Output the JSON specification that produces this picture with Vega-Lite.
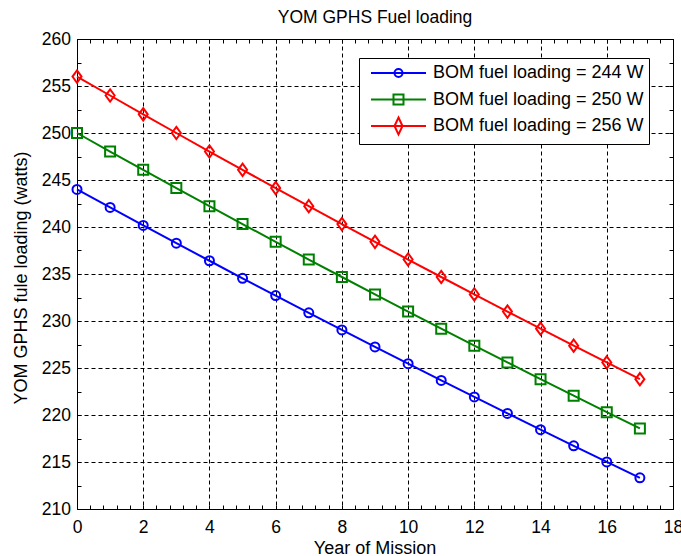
{
  "$schema": "https://vega.github.io/schema/vega-lite/v6.json",
  "autosize": "none",
  "padding": {"left": 77, "top": 39, "right": 8, "bottom": 47},
  "width": 596,
  "height": 470,
  "background": "white",
  "title": {"text": "YOM GPHS Fuel loading", "font": "Liberation Sans", "fontSize": 17.5, "fontWeight": "normal", "color": "black", "anchor": "middle", "offset": 11, "dy": 21, "baseline": "alphabetic"},
  "data": {"values": [
    {"year": 0, "series": "BOM fuel loading = 244 W", "watts": 244.00},
    {"year": 1, "series": "BOM fuel loading = 244 W", "watts": 242.08},
    {"year": 2, "series": "BOM fuel loading = 244 W", "watts": 240.17},
    {"year": 3, "series": "BOM fuel loading = 244 W", "watts": 238.28},
    {"year": 4, "series": "BOM fuel loading = 244 W", "watts": 236.41},
    {"year": 5, "series": "BOM fuel loading = 244 W", "watts": 234.54},
    {"year": 6, "series": "BOM fuel loading = 244 W", "watts": 232.70},
    {"year": 7, "series": "BOM fuel loading = 244 W", "watts": 230.87},
    {"year": 8, "series": "BOM fuel loading = 244 W", "watts": 229.05},
    {"year": 9, "series": "BOM fuel loading = 244 W", "watts": 227.24},
    {"year": 10, "series": "BOM fuel loading = 244 W", "watts": 225.46},
    {"year": 11, "series": "BOM fuel loading = 244 W", "watts": 223.68},
    {"year": 12, "series": "BOM fuel loading = 244 W", "watts": 221.92},
    {"year": 13, "series": "BOM fuel loading = 244 W", "watts": 220.17},
    {"year": 14, "series": "BOM fuel loading = 244 W", "watts": 218.44},
    {"year": 15, "series": "BOM fuel loading = 244 W", "watts": 216.72},
    {"year": 16, "series": "BOM fuel loading = 244 W", "watts": 215.01},
    {"year": 17, "series": "BOM fuel loading = 244 W", "watts": 213.32},
    {"year": 0, "series": "BOM fuel loading = 250 W", "watts": 250.00},
    {"year": 1, "series": "BOM fuel loading = 250 W", "watts": 248.03},
    {"year": 2, "series": "BOM fuel loading = 250 W", "watts": 246.08},
    {"year": 3, "series": "BOM fuel loading = 250 W", "watts": 244.14},
    {"year": 4, "series": "BOM fuel loading = 250 W", "watts": 242.22},
    {"year": 5, "series": "BOM fuel loading = 250 W", "watts": 240.31},
    {"year": 6, "series": "BOM fuel loading = 250 W", "watts": 238.42},
    {"year": 7, "series": "BOM fuel loading = 250 W", "watts": 236.54},
    {"year": 8, "series": "BOM fuel loading = 250 W", "watts": 234.68},
    {"year": 9, "series": "BOM fuel loading = 250 W", "watts": 232.83},
    {"year": 10, "series": "BOM fuel loading = 250 W", "watts": 231.00},
    {"year": 11, "series": "BOM fuel loading = 250 W", "watts": 229.18},
    {"year": 12, "series": "BOM fuel loading = 250 W", "watts": 227.38},
    {"year": 13, "series": "BOM fuel loading = 250 W", "watts": 225.59},
    {"year": 14, "series": "BOM fuel loading = 250 W", "watts": 223.81},
    {"year": 15, "series": "BOM fuel loading = 250 W", "watts": 222.05},
    {"year": 16, "series": "BOM fuel loading = 250 W", "watts": 220.30},
    {"year": 17, "series": "BOM fuel loading = 250 W", "watts": 218.57},
    {"year": 0, "series": "BOM fuel loading = 256 W", "watts": 256.00},
    {"year": 1, "series": "BOM fuel loading = 256 W", "watts": 253.99},
    {"year": 2, "series": "BOM fuel loading = 256 W", "watts": 251.99},
    {"year": 3, "series": "BOM fuel loading = 256 W", "watts": 250.00},
    {"year": 4, "series": "BOM fuel loading = 256 W", "watts": 248.03},
    {"year": 5, "series": "BOM fuel loading = 256 W", "watts": 246.08},
    {"year": 6, "series": "BOM fuel loading = 256 W", "watts": 244.14},
    {"year": 7, "series": "BOM fuel loading = 256 W", "watts": 242.22},
    {"year": 8, "series": "BOM fuel loading = 256 W", "watts": 240.31},
    {"year": 9, "series": "BOM fuel loading = 256 W", "watts": 238.42},
    {"year": 10, "series": "BOM fuel loading = 256 W", "watts": 236.54},
    {"year": 11, "series": "BOM fuel loading = 256 W", "watts": 234.68},
    {"year": 12, "series": "BOM fuel loading = 256 W", "watts": 232.83},
    {"year": 13, "series": "BOM fuel loading = 256 W", "watts": 231.00},
    {"year": 14, "series": "BOM fuel loading = 256 W", "watts": 229.18},
    {"year": 15, "series": "BOM fuel loading = 256 W", "watts": 227.38},
    {"year": 16, "series": "BOM fuel loading = 256 W", "watts": 225.59},
    {"year": 17, "series": "BOM fuel loading = 256 W", "watts": 223.81}
  ]},
  "layer": [
    {
      "mark": {"type": "line", "strokeWidth": 2},
      "encoding": {
        "x": {"field": "year", "type": "quantitative",
          "scale": {"domain": [0, 18], "nice": false, "zero": false},
          "axis": {"orient": "bottom",
            "values": [0,0.4,0.8,1.2,1.6,2,2.4,2.8,3.2,3.6,4,4.4,4.8,5.2,5.6,6,6.4,6.8,7.2,7.6,8,8.4,8.8,9.2,9.6,10,10.4,10.8,11.2,11.6,12,12.4,12.8,13.2,13.6,14,14.4,14.8,15.2,15.6,16,16.4,16.8,17.2,17.6,18],
            "labelExpr": "datum.value % 2 === 0 ? '' + datum.value : ''",
            "grid": true,
            "gridOpacity": {"condition": {"test": "datum.value % 2 === 0", "value": 1}, "value": 0},
            "labelPadding": 13,
            "title": "Year of Mission", "titleX": 297.5, "titleY": 44, "titleBaseline": "alphabetic", "titleAlign": "center"}},
        "y": {"field": "watts", "type": "quantitative",
          "scale": {"domain": [210, 260], "nice": false, "zero": false},
          "axis": {"orient": "left",
            "values": [210,212.5,215,217.5,220,222.5,225,227.5,230,232.5,235,237.5,240,242.5,245,247.5,250,252.5,255,257.5,260],
            "labelExpr": "datum.value % 5 === 0 ? '' + datum.value : ''",
            "grid": true,
            "gridOpacity": {"condition": {"test": "datum.value % 5 === 0", "value": 1}, "value": 0},
            "labelPadding": 10.6,
            "title": "YOM GPHS fule loading (watts)", "titleX": -50.3, "titleY": 238.5, "titleAngle": -90, "titleBaseline": "alphabetic", "titleAlign": "center"}},
        "color": {"field": "series", "type": "nominal",
          "scale": {"domain": ["BOM fuel loading = 244 W", "BOM fuel loading = 250 W", "BOM fuel loading = 256 W"], "range": ["#0000ff", "#008000", "#ff0000"]},
          "legend": null}
      }
    },
    {
      "mark": {"type": "point", "filled": false, "strokeWidth": 2, "size": 100, "opacity": 1},
      "encoding": {
        "x": {"field": "year", "type": "quantitative",
          "scale": {"domain": [0, 18], "nice": false, "zero": false},
          "axis": {"orient": "top",
            "values": [0,0.4,0.8,1.2,1.6,2,2.4,2.8,3.2,3.6,4,4.4,4.8,5.2,5.6,6,6.4,6.8,7.2,7.6,8,8.4,8.8,9.2,9.6,10,10.4,10.8,11.2,11.6,12,12.4,12.8,13.2,13.6,14,14.4,14.8,15.2,15.6,16,16.4,16.8,17.2,17.6,18],
            "labels": false, "grid": false, "title": null}},
        "y": {"field": "watts", "type": "quantitative",
          "scale": {"domain": [210, 260], "nice": false, "zero": false},
          "axis": {"orient": "right",
            "values": [210,212.5,215,217.5,220,222.5,225,227.5,230,232.5,235,237.5,240,242.5,245,247.5,250,252.5,255,257.5,260],
            "labels": false, "grid": false, "title": null}},
        "color": {"field": "series", "type": "nominal",
          "scale": {"domain": ["BOM fuel loading = 244 W", "BOM fuel loading = 250 W", "BOM fuel loading = 256 W"], "range": ["#0000ff", "#008000", "#ff0000"]},
          "legend": null},
        "shape": {"field": "series", "type": "nominal",
          "scale": {"domain": ["BOM fuel loading = 244 W", "BOM fuel loading = 250 W", "BOM fuel loading = 256 W"],
            "range": ["M-0.9,0A0.9,0.9 0 1,1 0.9,0A0.9,0.9 0 1,1 -0.9,0Z", "M-1,-1L1,-1L1,1L-1,1Z", "M0,-1.23L0.9,0L0,1.23L-0.9,0Z"]},
          "legend": null}
      }
    },
    {
      "mark": {"type": "point", "filled": false, "strokeWidth": 2, "opacity": 0},
      "encoding": {
        "x": {"field": "year", "type": "quantitative", "scale": {"domain": [0, 18], "nice": false, "zero": false}, "axis": null},
        "y": {"field": "watts", "type": "quantitative", "scale": {"domain": [210, 260], "nice": false, "zero": false}, "axis": null},
        "color": {"field": "series", "type": "nominal",
          "scale": {"domain": ["BOM fuel loading = 244 W", "BOM fuel loading = 250 W", "BOM fuel loading = 256 W"], "range": ["#0000ff", "#008000", "#ff0000"]},
          "legend": {"title": null}},
        "shape": {"field": "series", "type": "nominal",
          "scale": {"domain": ["BOM fuel loading = 244 W", "BOM fuel loading = 250 W", "BOM fuel loading = 256 W"],
            "range": [
              "M2.722,-0.944L2.722,-0.944M2.722,0.944L2.722,0.944M-0.334,0L5.777,0M2.278,0A0.444,0.444 0 1,1 3.166,0A0.444,0.444 0 1,1 2.278,0Z",
              "M2.722,-0.944L2.722,-0.944M2.722,0.944L2.722,0.944M-0.334,0L5.777,0M2.166,-0.556L3.277,-0.556L3.277,0.556L2.166,0.556Z",
              "M-0.334,0L5.777,0M2.722,-0.944L3.166,0L2.722,0.944L2.278,0Z"]},
          "legend": {"title": null}}
      }
    }
  ],
  "resolve": {"scale": {"x": "independent", "y": "independent", "color": "independent", "shape": "independent"}},
  "config": {
    "font": "Liberation Sans",
    "view": {"stroke": null},
    "axis": {
      "labelFont": "Liberation Sans", "titleFont": "Liberation Sans",
      "labelColor": "black", "titleColor": "black", "tickColor": "black", "domainColor": "black",
      "domainWidth": 1, "tickWidth": 1,
      "titleFontWeight": "normal", "labelFontSize": 17.5, "titleFontSize": 18,
      "gridColor": "black", "gridDash": [4, 3], "gridWidth": 1,
      "tickSize": -4, "labelFlush": false, "labelOverlap": false
    },
    "legend": {
      "orient": "none", "legendX": 282, "legendY": 19,
      "padding": 5, "rowPadding": 0.5,
      "labelFont": "Liberation Sans", "labelFontSize": 18, "labelColor": "black",
      "labelOffset": 49, "labelLimit": 400,
      "symbolSize": 324, "symbolStrokeWidth": 2, "symbolOpacity": 1,
      "strokeColor": "black", "fillColor": "white", "cornerRadius": 0
    }
  }
}
